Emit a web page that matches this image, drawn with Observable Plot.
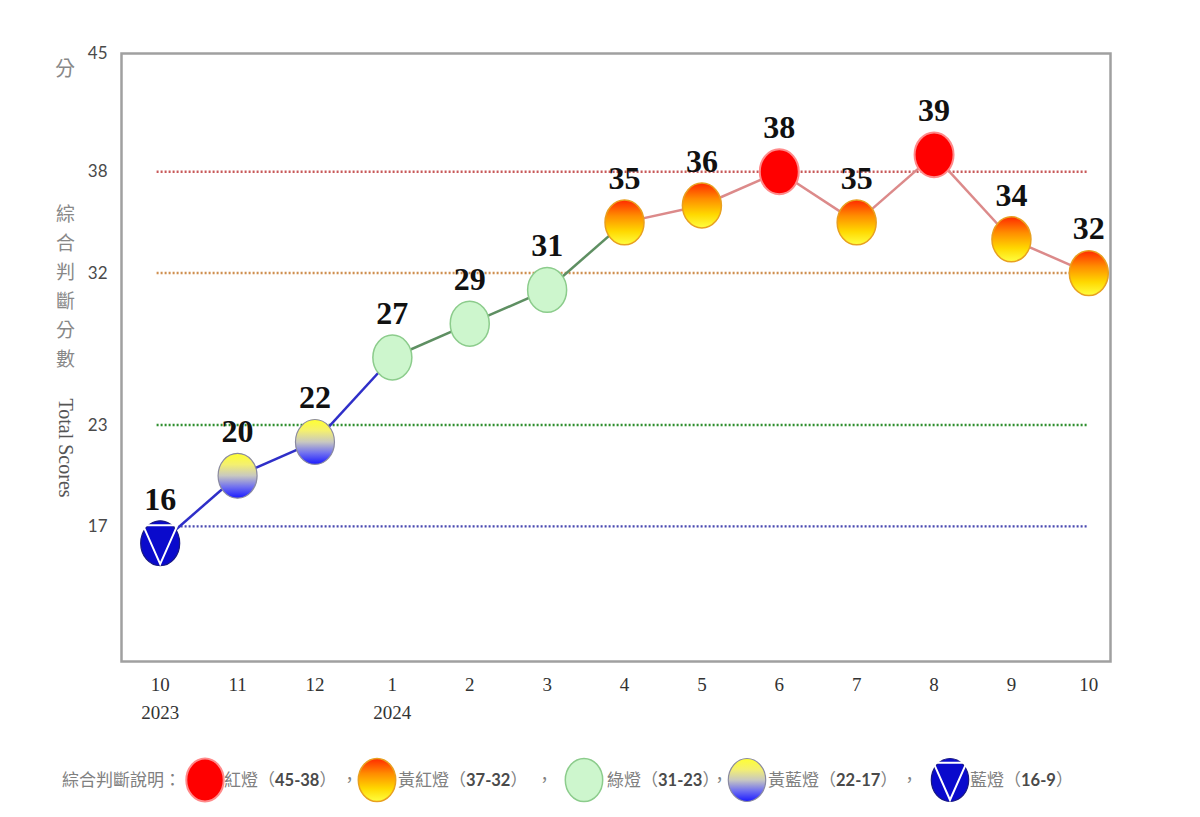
<!DOCTYPE html>
<html>
<head>
<meta charset="utf-8">
<script src="https://cdn.jsdelivr.net/npm/d3@7"></script>
<script src="https://cdn.jsdelivr.net/npm/@observablehq/plot@0.6"></script>
<style>
  body { margin: 0; background: #fff; }
  #wrap { position: relative; width: 1200px; height: 817px; font-family: "Noto Sans CJK TC", sans-serif; }
  #chart { position: absolute; left: 0; top: 0; }
  .abs { position: absolute; white-space: nowrap; }
  .ytitle { color: #888; font-size: 19px; }
  .leg { font-size: 17px; color: #808080; line-height: 24px; }
  .leg b { color: #4a4a4a; font-family: Lato, sans-serif; font-weight: 700; font-size: 16.5px; }
  .leg .half { font-feature-settings: "halt"; }
</style>
</head>
<body>
<svg width="0" height="0" style="position:absolute">
  <defs>
    <linearGradient id="gYR" x1="0" y1="0" x2="0" y2="1">
      <stop offset="0" stop-color="#ff2a00"/>
      <stop offset="0.35" stop-color="#ff8c00"/>
      <stop offset="0.7" stop-color="#ffd800"/>
      <stop offset="1" stop-color="#ffff40"/>
    </linearGradient>
    <linearGradient id="gYB" x1="0" y1="0" x2="0" y2="1">
      <stop offset="0" stop-color="#ffff30"/>
      <stop offset="0.25" stop-color="#f4f070"/>
      <stop offset="0.5" stop-color="#c8c8c0"/>
      <stop offset="0.75" stop-color="#7070f0"/>
      <stop offset="1" stop-color="#1a1aff"/>
    </linearGradient>
  </defs>
</svg>
<div id="wrap">
  <div id="chart"></div>
</div>
<script>
// ---- data ----
const months = ["10","11","12","1","2","3","4","5","6","7","8","9","10"];
const years  = ["2023","","","2024","","","","","","","","",""];
const scores = [16,20,22,27,29,31,35,36,38,35,39,34,32];
const thresholds = [38,32,23,17];
const yTicks = [45,38,32,23,17];
const legendLabels = ["紅燈", "黃紅燈", "綠燈", "黃藍燈", "藍燈"];
const legendRanges = ["45-38", "37-32", "31-23", "22-17", "16-9"];

// ---- styles ----
const thresholdColors = ["#c85a5a", "#cf9050", "#2f8f2f", "#4848b0"];
function cat(v) {
  if (v >= 38) return "red";
  if (v >= 32) return "yr";
  if (v >= 23) return "green";
  if (v >= 17) return "yb";
  return "blue";
}
const lineColor = {blue: "#2f2fc8", yb: "#2f2fc8", green: "#5e8f62", yr: "#dc8a8a", red: "#dc8a8a"};

// ellipse symbol (markers are slightly taller than wide)
const K = 0.5523;
const ellipse = {
  draw(ctx, size) {
    const r = Math.sqrt(size / Math.PI), rx = r, ry = r * 1.15;
    ctx.moveTo(rx, 0);
    ctx.bezierCurveTo(rx, ry * K, rx * K, ry, 0, ry);
    ctx.bezierCurveTo(-rx * K, ry, -rx, ry * K, -rx, 0);
    ctx.bezierCurveTo(-rx, -ry * K, -rx * K, -ry, 0, -ry);
    ctx.bezierCurveTo(rx * K, -ry, rx, -ry * K, rx, 0);
    ctx.closePath();
  }
};
const triangle = {
  draw(ctx, size) {
    const r = Math.sqrt(size / Math.PI), rx = r, ry = r * 1.15;
    ctx.moveTo(-rx * 0.88, -ry * 0.8);
    ctx.lineTo(rx * 0.88, -ry * 0.8);
    ctx.lineTo(0, ry * 0.93);
    ctx.closePath();
  }
};

const pts = scores.map((v, i) => ({i, v, c: cat(v)}));
const segs = pts.slice(0, -1).map((p, k) => ({x1: p.i, y1: p.v, x2: pts[k + 1].i, y2: pts[k + 1].v, color: lineColor[p.c]}));
const th = thresholds.map((v, k) => ({v, color: thresholdColors[k]}));

const R = 19.5;
const dotStyles = {
  red:   {fill: "#ff0000", stroke: "#ff8a8a", strokeWidth: 2},
  yr:    {fill: "url(#gYR)", stroke: "#e8a020", strokeWidth: 1.5},
  green: {fill: "#cdf6cd", stroke: "#8ccc8c", strokeWidth: 1.5},
  yb:    {fill: "url(#gYB)", stroke: "#8a8aa0", strokeWidth: 1.2},
  blue:  {fill: "#0a0acc", stroke: "#1a1a80", strokeWidth: 1.2}
};

const dotMarks = Object.keys(dotStyles).map(c =>
  Plot.dot(pts.filter(d => d.c === c), {x: "i", y: "v", r: R, symbol: ellipse, ...dotStyles[c]})
);

const chart = Plot.plot({
  width: 1200,
  height: 745,
  marginTop: 53,
  marginBottom: 84,
  marginLeft: 121,
  marginRight: 90,
  style: {background: "transparent", overflow: "visible"},
  x: {type: "linear", domain: [-0.5, 12.28]},
  y: {domain: [9, 45]},
  color: {type: "identity"},
  marks: [
    Plot.ruleY(th, {y: "v", x1: -0.04, x2: 12, stroke: "color", strokeWidth: 2.4, strokeDasharray: "2,2"}),
    Plot.link(segs, {x1: "x1", y1: "y1", x2: "x2", y2: "y2", stroke: "color", strokeWidth: 2.5}),
    ...dotMarks,
    Plot.dot(pts.filter(d => d.c === "blue"), {x: "i", y: "v", r: R, symbol: triangle, fill: "none", stroke: "#ffffff", strokeWidth: 2}),
    Plot.text(pts, {x: "i", y: "v", text: d => String(d.v), dy: -44, fontSize: 32, fontWeight: "bold", fontFamily: "Liberation Serif", fill: "#111"}),
    Plot.frame({stroke: "#a0a0a0", strokeWidth: 2.5}),
    Plot.axisY({ticks: yTicks, tickSize: 0, tickPadding: 14, fontSize: 17, fontFamily: "Lato", fill: "#4a4a4a", label: null}),
    Plot.axisX({ticks: d3.range(months.length), tickSize: 0, tickPadding: 9, tickFormat: i => months[i] + (years[i] ? "\n" + years[i] : ""), fontSize: 19, fontFamily: "Liberation Serif", fill: "#333", lineHeight: 1.5, label: null})
  ]
});
const wrap = document.getElementById("wrap");
document.getElementById("chart").appendChild(chart);

// ---- y-axis titles ----
function addDiv(html, cls, style) {
  const d = document.createElement("div");
  d.className = "abs " + cls;
  d.innerHTML = html;
  Object.assign(d.style, style);
  wrap.appendChild(d);
  return d;
}
addDiv("分", "ytitle", {left: "55px", top: "53px", fontSize: "20px"});
addDiv("綜<br>合<br>判<br>斷<br>分<br>數", "ytitle", {left: "56px", top: "198px", lineHeight: "29px", textAlign: "center"});
addDiv("Total Scores", "", {left: "65px", top: "448px", fontFamily: "Liberation Serif", fontSize: "20px", color: "#555",
  transform: "translate(-50%,-50%) rotate(90deg)"});

// ---- legend ----
function icon(c) {
  const s = dotStyles[c];
  const p = d3.path(); ellipse.draw(p, R * R * Math.PI * 0.92);
  let extra = "";
  if (c === "blue") { const t = d3.path(); triangle.draw(t, R * R * Math.PI * 0.92); extra = `<path d="${t}" fill="none" stroke="#fff" stroke-width="2"/>`; }
  return `<svg width="46" height="50" viewBox="-23 -25 46 50"><path d="${p}" fill="${s.fill}" stroke="${s.stroke}" stroke-width="${s.strokeWidth}"/>${extra}</svg>`;
}
const legendCats = ["red", "yr", "green", "yb", "blue"];
const iconX = [205, 377, 584, 747, 950];
const textX = [224, 398, 607, 768, 970];
const commaX = [341, 536, 711, 901];
addDiv("綜合判斷說明：", "leg", {left: "62px", top: "767px"});
legendCats.forEach((c, k) => {
  addDiv(icon(c), "", {left: (iconX[k] - 23) + "px", top: "755px"});
  addDiv(`${legendLabels[k]}（<b>${legendRanges[k]}</b><span class="half">）</span>`, "leg", {left: textX[k] + "px", top: "767px"});
  if (k < commaX.length) addDiv("，", "leg", {left: commaX[k] + "px", top: "767px"});
});
</script>
</body>
</html>
